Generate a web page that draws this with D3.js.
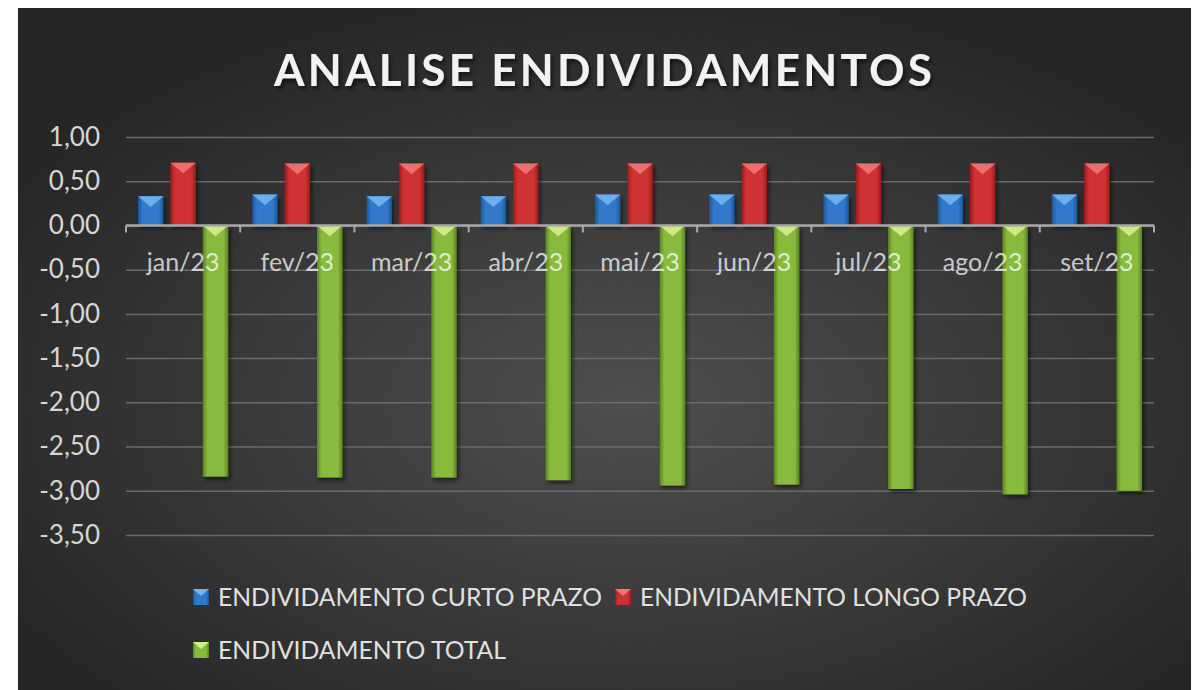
<!DOCTYPE html>
<html>
<head>
<meta charset="utf-8">
<script src="https://cdn.jsdelivr.net/npm/d3@7"></script>
<style>
  html, body { margin: 0; padding: 0; background: #ffffff; }
  svg { display: block; font-family: Lato, "Open Sans", sans-serif; }
</style>
</head>
<body>
<div id="chart"></div>
<script>
const categories = ["jan/23", "fev/23", "mar/23", "abr/23", "mai/23", "jun/23", "jul/23", "ago/23", "set/23"];
const curtoPrazo = [0.33, 0.35, 0.33, 0.33, 0.35, 0.35, 0.35, 0.35, 0.35];
const longoPrazo = [0.71, 0.70, 0.70, 0.70, 0.70, 0.70, 0.70, 0.70, 0.70];
const total = [-2.84, -2.85, -2.85, -2.88, -2.94, -2.93, -2.98, -3.04, -3.00];
const seriesNames = ["ENDIVIDAMENTO CURTO PRAZO", "ENDIVIDAMENTO LONGO PRAZO", "ENDIVIDAMENTO TOTAL"];
const yDomain = [-3.5, 1];
const title = "ANALISE ENDIVIDAMENTOS";

const width = 1199;
const height = 690;

const palette = [
    { dark: "#1d5598", base: "#3079cb", light: "#74b4f2" },
    { dark: "#981b1e", base: "#cf3032", light: "#f07575" },
    { dark: "#5a8420", base: "#88ba3c", light: "#d3ef8c" }
];

const series = [curtoPrazo, longoPrazo, total].map((values, i) => ({
    name: seriesNames[i],
    values: values,
    index: i
}));

const svg = d3.select("#chart").append("svg")
    .attr("width", width)
    .attr("height", height);

const defs = svg.append("defs");

// background gradient
const bg = defs.append("radialGradient")
    .attr("id", "bg")
    .attr("cx", "52%").attr("cy", "58%").attr("r", "62%");
bg.append("stop").attr("offset", "0%").attr("stop-color", "#4f4f4f");
bg.append("stop").attr("offset", "100%").attr("stop-color", "#262626");

palette.forEach((c, i) => {
    const grad = defs.append("linearGradient")
        .attr("id", "bar" + i)
        .attr("x1", "0%").attr("x2", "100%").attr("y1", "0%").attr("y2", "0%");
    grad.append("stop").attr("offset", "0%").attr("stop-color", c.dark);
    grad.append("stop").attr("offset", "18%").attr("stop-color", c.base);
    grad.append("stop").attr("offset", "82%").attr("stop-color", c.base);
    grad.append("stop").attr("offset", "100%").attr("stop-color", c.dark);
});

const shadow = defs.append("filter").attr("id", "shadow")
    .attr("x", "-30%").attr("y", "-10%").attr("width", "160%").attr("height", "130%");
shadow.append("feDropShadow")
    .attr("dx", 2).attr("dy", 3).attr("stdDeviation", 2)
    .attr("flood-color", "#000").attr("flood-opacity", 0.55);

const titleShadow = defs.append("filter").attr("id", "tshadow");
titleShadow.append("feDropShadow")
    .attr("dx", 2).attr("dy", 3).attr("stdDeviation", 2)
    .attr("flood-color", "#000").attr("flood-opacity", 0.6);

svg.append("rect")
    .attr("x", 18).attr("y", 8)
    .attr("width", 1173).attr("height", height - 8)
    .attr("fill", "url(#bg)");

// title
svg.append("text")
    .attr("x", 603)
    .attr("y", 86)
    .attr("text-anchor", "middle")
    .attr("font-size", 44)
    .attr("font-weight", "bold")
    .attr("fill", "#f2f2f2")
    .attr("textLength", 658)
    .attr("lengthAdjust", "spacing")
    .attr("filter", "url(#tshadow)")
    .text(title);

const x0 = d3.scaleBand()
    .domain(categories)
    .range([126, 1154])
    .paddingInner(0.21)
    .paddingOuter(0.105);

const x1 = d3.scaleBand()
    .domain(d3.range(series.length))
    .range([0, x0.bandwidth()])
    .paddingInner(0.215);

const y = d3.scaleLinear()
    .domain(yDomain)
    .range([535, 137]);

const locale = d3.formatLocale({
    decimal: ",", thousands: ".", grouping: [3], currency: ["R$", ""], minus: "-"
});
const fmt = locale.format(".2f");

// gridlines
const grid = svg.append("g")
    .attr("transform", "translate(126,0)")
    .call(d3.axisLeft(y).ticks(9).tickSize(-1028).tickFormat(""));
grid.select(".domain").remove();
grid.selectAll(".tick line")
    .attr("stroke", "#6a6a6a")
    .attr("stroke-width", 1.5);

// y axis labels
const yAxis = svg.append("g")
    .attr("transform", "translate(126,0)")
    .call(d3.axisLeft(y).ticks(9).tickSize(0).tickPadding(26).tickFormat(fmt));
yAxis.select(".domain").remove();
yAxis.selectAll("text")
    .attr("font-family", "Lato, sans-serif")
    .attr("font-size", 26)
    .attr("fill", "#d6d6d6");

// bars
const groups = svg.append("g").selectAll("g")
    .data(categories)
    .join("g")
    .attr("transform", d => `translate(${x0(d)},0)`);

const bars = groups.selectAll("g")
    .data((d, ci) => series.map(s => ({ s: s, v: s.values[ci] })))
    .join("g")
    .attr("filter", "url(#shadow)");

bars.append("rect")
    .attr("x", d => x1(d.s.index))
    .attr("y", d => y(Math.max(0, d.v)))
    .attr("width", x1.bandwidth())
    .attr("height", d => Math.abs(y(d.v) - y(0)))
    .attr("fill", d => `url(#bar${d.s.index})`);

bars.append("path")
    .attr("d", d => {
        const bx = x1(d.s.index);
        const bw = x1.bandwidth();
        const top = y(Math.max(0, d.v));
        return `M${bx},${top}L${bx + bw},${top}L${bx + bw / 2},${top + bw * 0.42}Z`;
    })
    .attr("fill", d => palette[d.s.index].light)
    .attr("opacity", 0.9);

// axis line at zero with ticks
const xAxis = svg.append("g")
    .attr("transform", `translate(0,${y(0)})`);
xAxis.append("line")
    .attr("x1", 126).attr("x2", 1154)
    .attr("stroke", "#a8a8a8").attr("stroke-width", 2.5);
xAxis.selectAll(".tk")
    .data(categories.concat([null]))
    .join("line")
    .attr("class", "tk")
    .attr("x1", (d, i) => i < categories.length ? x0(d) - x0.step() * x0.paddingOuter() : 1154)
    .attr("x2", (d, i) => i < categories.length ? x0(d) - x0.step() * x0.paddingOuter() : 1154)
    .attr("y1", 0).attr("y2", 7)
    .attr("stroke", "#a8a8a8").attr("stroke-width", 2);

// category labels (drawn over the bars)
svg.append("g").selectAll("text")
    .data(categories)
    .join("text")
    .attr("x", d => x0(d) + x0.bandwidth() / 2)
    .attr("y", y(0) + 46)
    .attr("text-anchor", "middle")
    .attr("font-size", 25)
    .attr("fill", "#ffffff")
    .attr("fill-opacity", 0.74)
    .text(d => d);

// legend
const legendPos = [
    { x: 193, y: 597, w: 384 },
    { x: 615, y: 597, w: 387 },
    { x: 193, y: 650, w: 288 }
];
const legend = svg.append("g").selectAll("g")
    .data(series)
    .join("g")
    .attr("transform", d => `translate(${legendPos[d.index].x},${legendPos[d.index].y})`);

legend.append("rect")
    .attr("x", 0).attr("y", -8)
    .attr("width", 16).attr("height", 16)
    .attr("fill", d => `url(#bar${d.index})`);
legend.append("path")
    .attr("d", "M0,-8L16,-8L8,-1Z")
    .attr("fill", d => palette[d.index].light);
legend.append("text")
    .attr("x", 25)
    .attr("y", 9)
    .attr("font-size", 25)
    .attr("fill", "#e0e0e0")
    .attr("textLength", d => legendPos[d.index].w)
    .attr("lengthAdjust", "spacingAndGlyphs")
    .text(d => d.name);
</script>
</body>
</html>
